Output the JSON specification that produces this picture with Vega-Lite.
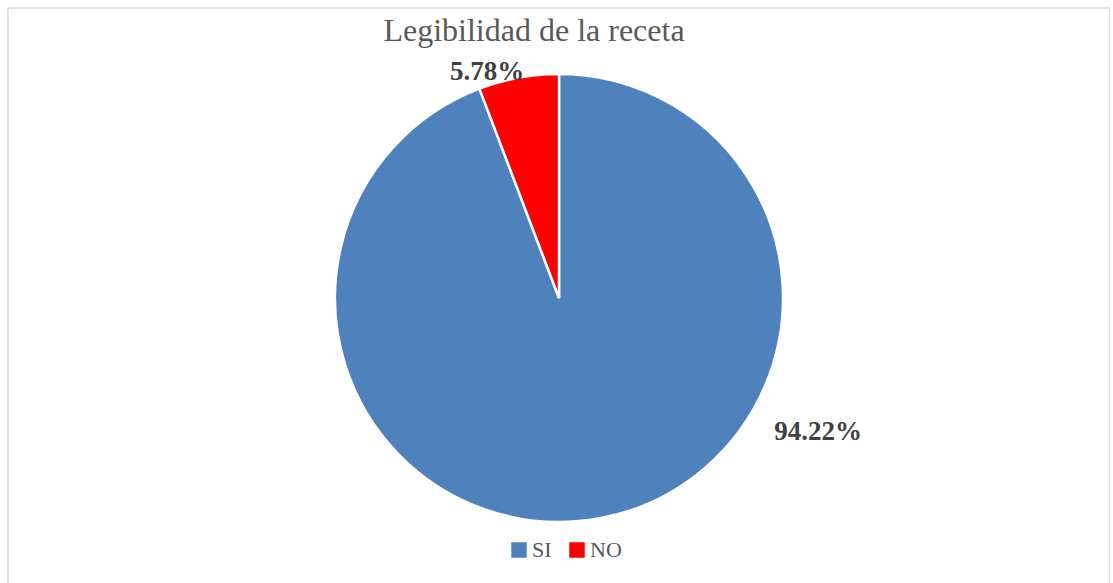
{
  "$schema": "https://vega.github.io/schema/vega-lite/v6.json",
  "autosize": {"type": "none"},
  "padding": {"left": 8, "top": 8, "right": 0, "bottom": 0},
  "width": 1102,
  "height": 580,
  "background": "white",
  "view": {"stroke": "#d9d9d9", "strokeWidth": 1.5},
  "title": {
    "text": "Legibilidad de la receta",
    "frame": "group",
    "anchor": "middle",
    "orient": "top",
    "baseline": "alphabetic",
    "offset": -35,
    "dy": 30,
    "dx": -25,
    "font": "Liberation Serif",
    "fontSize": 32,
    "fontWeight": "normal",
    "color": "#595959"
  },
  "data": {
    "values": [
      {"respuesta": "SI", "porcentaje": 94.22, "etiqueta": "94.22%"},
      {"respuesta": "NO", "porcentaje": 5.78, "etiqueta": "5.78%"}
    ]
  },
  "encoding": {
    "theta": {"field": "porcentaje", "type": "quantitative", "stack": true},
    "order": {"field": "porcentaje", "type": "quantitative", "sort": "descending"}
  },
  "layer": [
    {
      "mark": {"type": "arc", "outerRadius": 224, "stroke": "white", "strokeWidth": 2.5},
      "encoding": {
        "color": {
          "field": "respuesta",
          "type": "nominal",
          "scale": {"domain": ["SI", "NO"], "range": ["#4F81BD", "#FF0000"]},
          "legend": {
            "title": null,
            "orient": "none",
            "direction": "horizontal",
            "legendX": 500,
            "legendY": 531,
            "symbolType": "square",
            "symbolSize": 240,
            "symbolStrokeWidth": 0,
            "labelFont": "Liberation Serif",
            "labelFontSize": 22,
            "labelColor": "#595959",
            "columnPadding": 14,
            "labelOffset": 2
          }
        }
      }
    },
    {
      "transform": [{"filter": "datum.respuesta == 'SI'"}],
      "mark": {"type": "text", "radius": 292, "thetaOffset": -0.911, "font": "Liberation Serif", "fontSize": 27, "fontWeight": "bold", "color": "#404040", "baseline": "middle", "align": "center"},
      "encoding": {"text": {"field": "etiqueta"}}
    },
    {
      "transform": [{"filter": "datum.respuesta == 'NO'"}],
      "mark": {"type": "text", "radius": 237, "thetaOffset": -0.490, "font": "Liberation Serif", "fontSize": 27, "fontWeight": "bold", "color": "#404040", "baseline": "middle", "align": "center"},
      "encoding": {"text": {"field": "etiqueta"}}
    }
  ]
}
